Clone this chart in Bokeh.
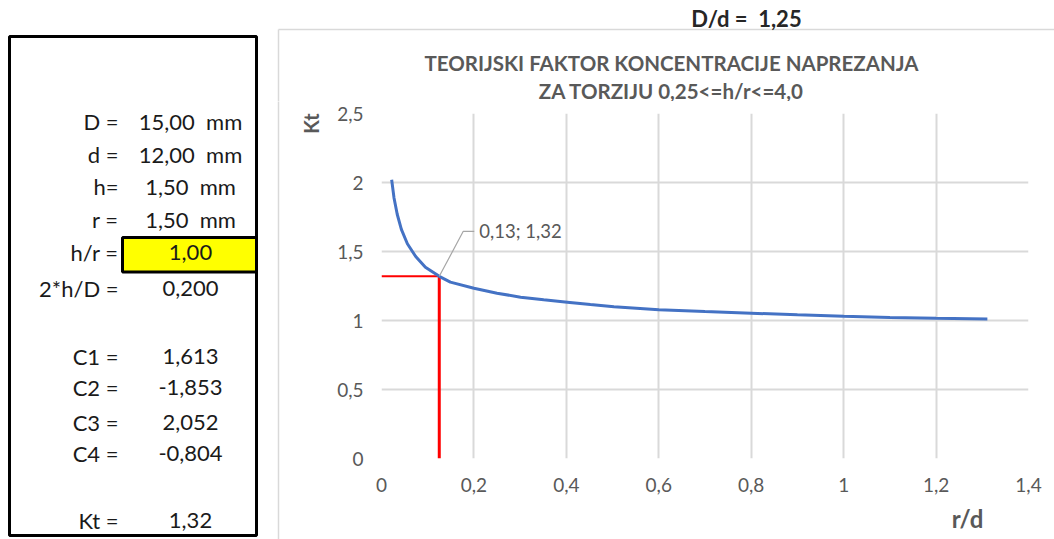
from math import pi
from bokeh.plotting import figure
from bokeh.layouts import row, column
from bokeh.models import FixedTicker, Range1d
from bokeh.core.properties import value
from bokeh.embed import file_html
from bokeh.resources import INLINE

# ---------------- data ----------------
r_d = [0.022, 0.027, 0.034, 0.043, 0.056, 0.074, 0.095, 0.125, 0.149, 0.200,
       0.250, 0.301, 0.351, 0.402, 0.452, 0.503, 0.600, 0.700, 0.800, 0.900,
       1.000, 1.100, 1.200, 1.311]
kt = [2.02, 1.89, 1.77, 1.66, 1.556, 1.464, 1.386, 1.32, 1.278, 1.234,
      1.198, 1.169, 1.150, 1.133, 1.116, 1.100, 1.078, 1.065, 1.053, 1.041,
      1.030, 1.022, 1.016, 1.010]

sel_rd = 0.125
sel_kt = 1.32
sel_label = "0,13; 1,32"

x_ticks = [0, 0.2, 0.4, 0.6, 0.8, 1.0, 1.2, 1.4]
x_tick_labels = ["0", "0,2", "0,4", "0,6", "0,8", "1", "1,2", "1,4"]
y_ticks = [0, 0.5, 1.0, 1.5, 2.0, 2.5]
y_tick_labels = ["0", "0,5", "1", "1,5", "2", "2,5"]

NB = "\u00a0"
panel_labels = ["D =", "d =", "h=", "r =", "h/r =", "2*h/D =",
                "C1 =", "C2 =", "C3 =", "C4 =", "Kt ="]
panel_values = ["15,00" + NB + " mm", "12,00" + NB + " mm", "1,50" + NB + " mm",
                "1,50" + NB + " mm", "1,00", "0,200",
                "1,613", "-1,853", "2,052", "-0,804", "1,32"]

title_lines = ["TEORIJSKI FAKTOR KONCENTRACIJE NAPREZANJA", "ZA TORZIJU 0,25<=h/r<=4,0"]
ratio_text = "D/d = " + NB + "1,25"
x_title = "r/d"
y_title = "Kt"

# ---------------- layout (picture pixel positions) ----------------
FONT = "Lato"
W, H = 1054, 539
FX0, FX1 = 381, 1028      # plot frame left/right
FY0, FY1 = 113, 458       # plot frame top/bottom
SPLIT_Y = 101             # where the strip above the chart ends
row_py = [121, 154, 186, 219, 252, 288, 356, 387, 422, 453, 520]
TXT = "#1a1a1a"
GREY = "#595959"
BORDER = "#d9d9d9"


def aux(x0, x1, y0, y1):
    f = figure(width=x1 - x0, height=y1 - y0, x_range=Range1d(x0, x1),
               y_range=Range1d(-y1, -y0), x_axis_type=None, y_axis_type=None,
               min_border=0, toolbar_location=None, output_backend="svg", title=None)
    f.outline_line_color = None
    f.background_fill_color = "white"
    f.border_fill_color = "white"
    return f


# ---- left info panel ----
panel = aux(0, 270, 0, H)
panel.quad(left=[9], right=[256], top=[-36], bottom=[-535],
           fill_alpha=0, line_color="black", line_width=3)
panel.quad(left=[122], right=[256], top=[-237], bottom=[-271.5],
           fill_color="#ffff00", line_color="black", line_width=3)
panel.text(x=[118] * len(row_py), y=[-v for v in row_py], text=panel_labels,
           text_font=value(FONT), text_font_size="22px", text_color=TXT,
           text_align="right", text_baseline="middle")
panel.text(x=[190] * len(row_py), y=[-v for v in row_py], text=panel_values,
           text_font=value(FONT), text_font_size="22px", text_color=TXT,
           text_align="center", text_baseline="middle")

# ---- strip above the chart ----
top = aux(270, W, 0, SPLIT_Y)
top.line([278, W + 5], [-29, -29], line_color=BORDER, line_width=1.5)
top.line([278, 278], [-29, -SPLIT_Y - 5], line_color=BORDER, line_width=1.5)
top.text(x=[746], y=[-18], text=[ratio_text], text_font=value(FONT),
         text_font_size="22px", text_font_style="bold", text_color="#262626",
         text_align="center", text_baseline="middle")
top.text(x=[671, 671], y=[-62, -90], text=title_lines, text_font=value(FONT),
         text_font_size="20.5px", text_font_style="bold", text_color=GREY,
         text_align="center", text_baseline="middle")

# ---- strip left of the chart ----
left = aux(270, 330, SPLIT_Y, H)
left.line([278, 278], [-SPLIT_Y + 5, -H - 5], line_color=BORDER, line_width=1.5)
left.text(x=[310], y=[-123], text=[y_title], angle=pi / 2, text_font=value(FONT),
          text_font_size="20px", text_font_style="bold", text_color=GREY,
          text_align="center", text_baseline="middle")

# ---- strip below the chart ----
bottom = aux(330, W, 500, H)
bottom.text(x=[968], y=[-518], text=[x_title], text_font=value(FONT),
            text_font_size="24px", text_font_style="bold", text_color=GREY,
            text_align="left", text_baseline="middle")

# ---- the chart ----
CX0, CX1, CY0, CY1 = 330, W, SPLIT_Y, 500
p = figure(width=CX1 - CX0, height=CY1 - CY0, output_backend="svg",
           toolbar_location=None, title=None,
           x_range=Range1d(x_ticks[0], x_ticks[-1]), y_range=Range1d(y_ticks[0], y_ticks[-1]),
           min_border_left=FX0 - CX0, min_border_right=CX1 - FX1,
           min_border_top=FY0 - CY0, min_border_bottom=CY1 - FY1)
p.outline_line_color = None
p.background_fill_color = "white"
p.border_fill_color = "white"

for ax, ticks, labels in ((p.xaxis[0], x_ticks, x_tick_labels),
                          (p.yaxis[0], y_ticks, y_tick_labels)):
    ax.ticker = FixedTicker(ticks=ticks)
    ax.major_label_overrides = {t: l for t, l in zip(ticks, labels)}
    ax.axis_line_color = None
    ax.major_tick_line_color = None
    ax.minor_tick_line_color = None
    ax.major_tick_out = 0
    ax.major_tick_in = 0
    ax.major_label_text_font = FONT
    ax.major_label_text_font_size = "19px"
    ax.major_label_text_color = GREY
p.xaxis.major_label_standoff = 19
p.yaxis.major_label_standoff = 18

p.xgrid.ticker = FixedTicker(ticks=x_ticks)
p.ygrid.ticker = FixedTicker(ticks=y_ticks)
p.grid.grid_line_color = BORDER
p.grid.grid_line_width = 2

# marker lines for the selected point
p.line([0, sel_rd], [sel_kt, sel_kt], line_color="#ff0000", line_width=2)
p.line([sel_rd, sel_rd], [sel_kt, 0], line_color="#ff0000", line_width=3)

# the curve
p.line(r_d, kt, line_color="#4472c4", line_width=3)

# data label with leader line (offsets in plot units: ~24 px right, ~45 px up)
px_x = (x_ticks[-1] - x_ticks[0]) / (FX1 - FX0)
px_y = (y_ticks[-1] - y_ticks[0]) / (FY1 - FY0)
lead_x = [sel_rd, sel_rd + 24 * px_x, sel_rd + 35 * px_x]
lead_y = [sel_kt, sel_kt + 45 * px_y, sel_kt + 45 * px_y]
p.line(lead_x, lead_y, line_color="#a6a6a6", line_width=1.2)
p.text(x=[lead_x[-1] + 5 * px_x], y=[lead_y[-1]], text=[sel_label],
       text_font=value(FONT), text_font_size="18.5px", text_color=GREY,
       text_align="left", text_baseline="middle")

layout = row(panel, column(top, row(left, column(p, bottom))))
open("out.html", "w").write(file_html(layout, INLINE))
